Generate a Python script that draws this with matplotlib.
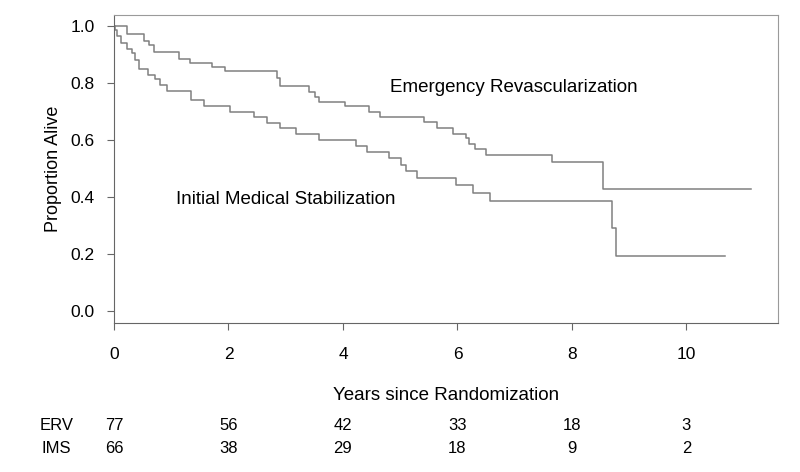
import numpy as np
import matplotlib
matplotlib.use("Agg")
from matplotlib import pyplot as plt

plt.rcParams['font.family'] = ['Liberation Sans', 'DejaVu Sans']

# Kaplan-Meier steps (time in years, survival after step)
erv_t = [0, 0.23, 0.53, 0.62, 0.70, 1.14, 1.33, 1.72, 1.94, 2.84, 2.90,
         3.41, 3.51, 3.59, 4.04, 4.45, 4.65, 5.42, 5.65, 5.93, 6.15, 6.20,
         6.30, 6.50, 7.65, 8.54, 11.12]
erv_s = [1.0, 0.974, 0.948, 0.935, 0.909, 0.883, 0.870, 0.857, 0.844, 0.818,
         0.790, 0.769, 0.752, 0.734, 0.719, 0.700, 0.682, 0.664, 0.641, 0.623,
         0.606, 0.588, 0.570, 0.547, 0.522, 0.427, 0.427]

ims_t = [0, 0.02, 0.06, 0.12, 0.23, 0.31, 0.37, 0.44, 0.60, 0.72, 0.80, 0.92,
         1.34, 1.57, 2.02, 2.44, 2.67, 2.90, 3.18, 3.59, 4.23, 4.42, 4.80,
         5.01, 5.10, 5.30, 5.97, 6.28, 6.56, 8.70, 8.77, 10.68]
ims_s = [1.0, 0.985, 0.965, 0.939, 0.920, 0.904, 0.880, 0.850, 0.830, 0.816,
         0.793, 0.773, 0.740, 0.718, 0.698, 0.680, 0.661, 0.641, 0.621, 0.600,
         0.579, 0.559, 0.536, 0.512, 0.492, 0.468, 0.442, 0.415, 0.387, 0.292,
         0.194, 0.194]

# numbers at risk
risk_years = [0, 2, 4, 6, 8, 10]
erv_risk = [77, 56, 42, 33, 18, 3]
ims_risk = [66, 38, 29, 18, 9, 2]

fig = plt.figure(figsize=(8, 4.72), dpi=100)
ax = fig.add_axes([0.1425, 0.3157, 0.83, 0.6525])

ax.step(erv_t, erv_s, where='post', color='#808080', lw=1.1)
ax.step(ims_t, ims_s, where='post', color='#808080', lw=1.1)

ax.set_xlim(0, 11.6)
ax.set_ylim(-0.042, 1.039)
ax.set_xticks(risk_years)
ax.set_yticks([0.0, 0.2, 0.4, 0.6, 0.8, 1.0])
ax.set_yticklabels(['0.0', '0.2', '0.4', '0.6', '0.8', '1.0'])
ax.tick_params(axis='x', length=5, pad=12, labelsize=12.5, color='#666666')
ax.tick_params(axis='y', length=5, pad=9, labelsize=12.5, color='#666666')

for s in ['left', 'bottom']:
    ax.spines[s].set_color('#666666')
for s in ['top', 'right']:
    ax.spines[s].set_color('#9a9a9a')

ax.set_ylabel('Proportion Alive', fontsize=13, labelpad=6)
ax.set_xlabel('Years since Randomization', fontsize=13.5, labelpad=18)

ax.text(4.83, 0.786, 'Emergency Revascularization', fontsize=13.5, va='center')
ax.text(1.08, 0.39, 'Initial Medical Stabilization', fontsize=13.5, va='center')

# risk table under the axis
trans = ax.get_xaxis_transform()
for i, yr in enumerate(risk_years):
    ax.text(yr, -0.334, str(erv_risk[i]), transform=trans, ha='center',
            va='center', fontsize=12)
    ax.text(yr, -0.409, str(ims_risk[i]), transform=trans, ha='center',
            va='center', fontsize=12)
ax.text(-1.01, -0.334, 'ERV', transform=trans, ha='center', va='center',
        fontsize=12)
ax.text(-1.01, -0.409, 'IMS', transform=trans, ha='center', va='center',
        fontsize=12)

fig.savefig('out.png', dpi=100)
